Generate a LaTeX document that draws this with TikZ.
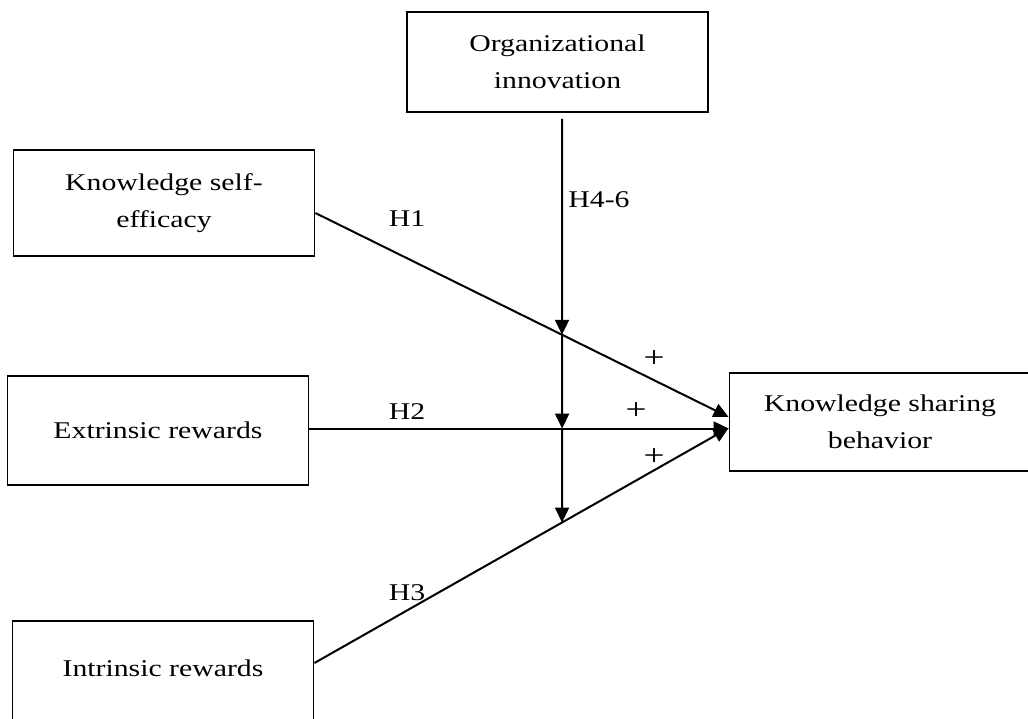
\documentclass[tikz,border=0pt]{standalone}
\usepackage{fontspec}
\setmainfont{Liberation Serif}[FakeStretch=1.24]
\usetikzlibrary{arrows.meta, calc}

\begin{document}
\begin{tikzpicture}[x=0.5pt, y=-0.5pt,
	font=\fontsize{12}{18.5}\selectfont,
	construct/.style={draw, line width=0.9pt, align=center, inner sep=0pt, minimum width=150.5pt},
	path_hyp/.style={line width=1pt, -{Triangle[length=7.5pt, width=7pt]}},
	hyp_label/.style={inner sep=0pt},
	hyp_sign/.style={inner sep=0pt, font=\fontsize{15}{18}\selectfont}]
	\useasboundingbox (0,0) rectangle (1028,718);
	\clip (0,0) rectangle (1028,718);
	% CONSTRUCTOS
	\node[construct, minimum height=50pt] (org) at (557.5,62) {Organizational\\innovation};
	\node[construct, minimum height=53pt] (kse) at (164,203) {Knowledge self-\\efficacy};
	\node[construct, minimum height=54.5pt] (ext) at (158,430.5) {Extrinsic rewards};
	\node[construct, minimum height=54pt, text depth=7pt] (int) at (163,675) {Intrinsic rewards};
	\node[construct, minimum height=49pt] (ksb) at (880,422) {Knowledge sharing\\behavior};
	% HIPOTESIS H1-H3
	\coordinate (h1s) at ([yshift=-5pt]kse.east);
	\coordinate (h1e) at ([yshift=2.5pt]ksb.west);
	\coordinate (h2s) at ([yshift=1pt]ext.east);
	\coordinate (h2e) at (h2s -| ksb.west);
	\coordinate (h3s) at ([yshift=6pt]int.east);
	\coordinate (h3e) at ([yshift=-3pt]ksb.west);
	\draw[path_hyp] (h1s) -- (h1e);
	\draw[path_hyp] (h2s) -- (h2e);
	\draw[path_hyp] (h3s) -- (h3e);
	% MODERACION H4-6
	\coordinate (mtop) at ([xshift=2.25pt, yshift=-3pt]org.south);
	\coordinate (mbot) at ($(mtop)+(0,600)$);
	\coordinate (m1) at (intersection of h1s--h1e and mtop--mbot);
	\coordinate (m2) at (intersection of h2s--h2e and mtop--mbot);
	\coordinate (m3) at (intersection of h3s--h3e and mtop--mbot);
	\draw[path_hyp] (mtop) -- (m1);
	\draw[path_hyp] (m1) -- (m2);
	\draw[path_hyp] (m2) -- (m3);
	% ETIQUETAS
	\node[hyp_label] (lab_h1) at (407,219) {H1};
	\node[hyp_label] (lab_h2) at (407,412) {H2};
	\node[hyp_label] (lab_h3) at (407,593) {H3};
	\node[hyp_label, anchor=west] (lab_h46) at (568,200) {H4-6};
	\node[hyp_sign] (sign_h1) at (654,359) {+};
	\node[hyp_sign] (sign_h2) at (636,411) {+};
	\node[hyp_sign] (sign_h3) at (654,457) {+};
\end{tikzpicture}
\end{document}
